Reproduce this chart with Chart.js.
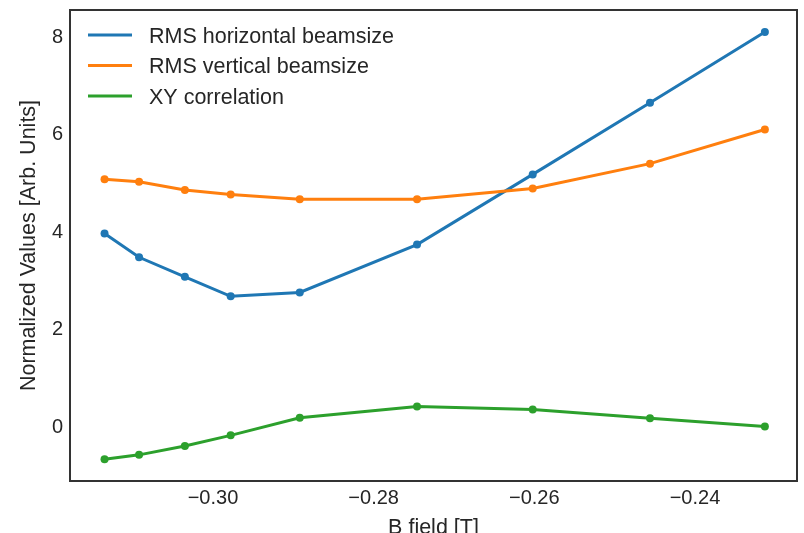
<!DOCTYPE html>
<html>
<head>
<meta charset="utf-8">
<script src="https://cdn.jsdelivr.net/npm/chart.js@4/dist/chart.umd.min.js"></script>
<style>
html,body{margin:0;padding:0;background:#fff;}
#wrap{width:804px;height:533px;}
</style>
</head>
<body>
<div id="wrap"><canvas id="c" width="804" height="533"></canvas></div>
<script>
// ---- data ----
const bField = [-0.3135, -0.3092, -0.3035, -0.2978, -0.2892, -0.2746, -0.2602, -0.2456, -0.2313];
const horizontal = [3.98, 3.49, 3.09, 2.69, 2.77, 3.75, 5.19, 6.66, 8.11];
const vertical = [5.09, 5.04, 4.87, 4.78, 4.68, 4.68, 4.90, 5.41, 6.11];
const correlation = [-0.65, -0.56, -0.38, -0.16, 0.20, 0.43, 0.37, 0.19, 0.02];
const seriesNames = ['RMS horizontal beamsize', 'RMS vertical beamsize', 'XY correlation'];
const xTicks = [-0.30, -0.28, -0.26, -0.24];
const yTicks = [0, 2, 4, 6, 8];
const xLabel = 'B field [T]';
const yLabel = 'Normalized Values [Arb. Units]';

const colors = ['#1f77b4', '#ff7f0e', '#2ca02c'];
const textColor = '#262626';
const FONT = '"Liberation Sans", Arial, sans-serif';

function pts(ys) { return bField.map((x, i) => ({x: x, y: ys[i]})); }
function mkDs(i, ys) {
  return {
    label: seriesNames[i], data: pts(ys),
    borderColor: colors[i], backgroundColor: colors[i],
    borderWidth: 3, pointRadius: 4, pointBorderWidth: 0,
    pointBackgroundColor: colors[i], tension: 0, order: 3 - i
  };
}

const framePlugin = {
  id: 'frameAndLegend',
  afterDraw(chart) {
    const {ctx, chartArea: a} = chart;
    ctx.save();
    ctx.strokeStyle = '#333333';
    ctx.lineWidth = 2;
    ctx.strokeRect(a.left, a.top, a.right - a.left, a.bottom - a.top);
    // legend
    ctx.font = '21.5px ' + FONT;
    ctx.textBaseline = 'middle';
    ctx.textAlign = 'left';
    chart.data.datasets.forEach((ds, i) => {
      const cy = a.top + 27 + i * 30.5;
      ctx.strokeStyle = ds.borderColor;
      ctx.lineWidth = 3;
      ctx.beginPath();
      ctx.moveTo(a.left + 18, cy - 2);
      ctx.lineTo(a.left + 62, cy - 2);
      ctx.stroke();
      ctx.fillStyle = textColor;
      ctx.fillText(ds.label, a.left + 79, cy);
    });
    ctx.restore();
  }
};

new Chart(document.getElementById('c'), {
  type: 'line',
  data: { datasets: [mkDs(0, horizontal), mkDs(1, vertical), mkDs(2, correlation)] },
  options: {
    responsive: false, animation: false, devicePixelRatio: 1,
    layout: { padding: { left: 0, top: 10, right: 7, bottom: 0 } },
    plugins: { legend: { display: false }, tooltip: { enabled: false } },
    scales: {
      x: {
        type: 'linear', min: -0.3178, max: -0.2273,
        grid: { display: false, drawTicks: false },
        border: { display: false },
        afterBuildTicks: s => { s.ticks = xTicks.map(v => ({value: v})); },
        afterFit: s => { s.height = 52; s.paddingLeft = 0; s.paddingRight = 0; },
        ticks: {
          color: textColor, padding: 5, maxRotation: 0, autoSkip: false,
          font: { family: FONT, size: 20 },
          callback: v => (v < 0 ? '\u2212' : '') + Math.abs(v).toFixed(2)
        },
        title: {
          display: true, text: xLabel, color: textColor,
          font: { family: FONT, size: 21.5, lineHeight: 1.2 },
          padding: { top: 0, bottom: -8 }
        }
      },
      y: {
        type: 'linear', min: -1.096, max: 8.56,
        grid: { display: false, drawTicks: false },
        border: { display: false },
        afterBuildTicks: s => { s.ticks = yTicks.map(v => ({value: v})); },
        afterFit: s => { s.width = 70; s.paddingTop = 0; s.paddingBottom = 0; },
        ticks: {
          color: textColor, padding: 7,
          font: { family: FONT, size: 20 },
          callback: v => String(v)
        },
        title: {
          display: true, text: yLabel, color: textColor,
          font: { family: FONT, size: 21.5, lineHeight: 1.2 },
          padding: { top: 16, bottom: 0 }
        }
      }
    }
  },
  plugins: [framePlugin]
});
</script>
</body>
</html>
